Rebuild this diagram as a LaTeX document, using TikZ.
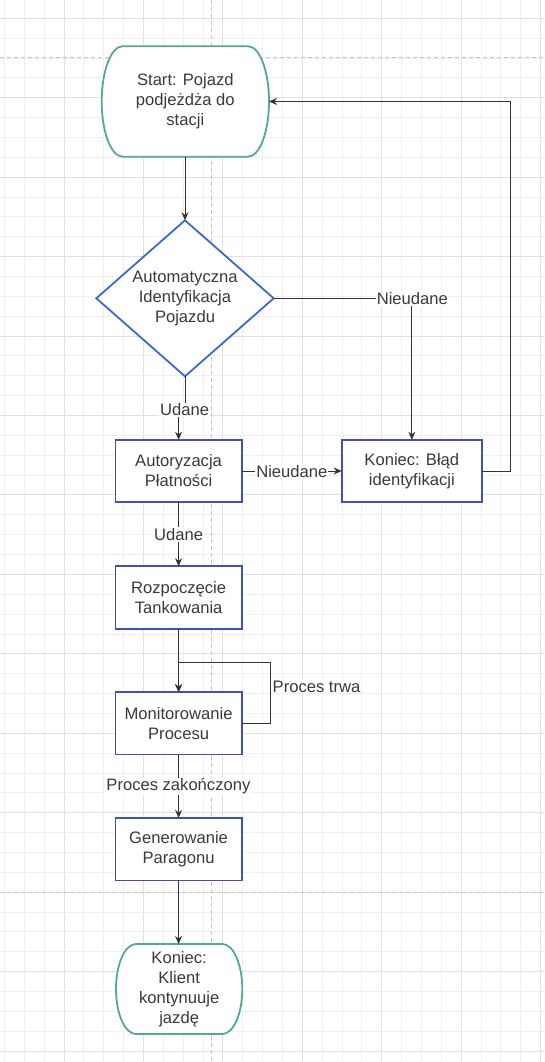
\documentclass[tikz,border=0pt]{standalone}
\usepackage{fontspec}
\setmainfont{Liberation Sans}
\usetikzlibrary{arrows.meta,shapes.geometric}
\definecolor{txtc}{HTML}{3A3A3A}
\definecolor{linec}{HTML}{333333}
\definecolor{boxc}{HTML}{4150B5}
\definecolor{diac}{HTML}{3B6AC9}
\definecolor{termc}{HTML}{52A89A}
\definecolor{gridminor}{HTML}{EFEFEF}
\definecolor{gridmajor}{HTML}{E0E0E0}
\definecolor{pagec}{HTML}{C4C4C4}
\begin{document}
\begin{tikzpicture}[x=1pt,y=-1pt,
  every node/.style={font=\fontsize{16.6}{19.9}\selectfont, text=txtc},
  box/.style={draw=boxc, line width=1.8pt, fill=white, minimum width=126.3pt, minimum height=62.5pt, inner sep=0pt, outer sep=0pt, align=center},
  termn/.style={rectangle, inner sep=0pt, outer sep=0pt, align=center},
  termline/.style={draw=termc, line width=1.8pt, fill=white},
  decision/.style={diamond, draw=diac, line width=1.8pt, fill=white, minimum width=177.3pt, minimum height=156pt, inner sep=0pt, outer sep=0pt},
  arr/.style={draw=linec, line width=1pt, -{Stealth[length=8pt,width=7pt]}},
  plain/.style={draw=linec, line width=1pt},
  lbl/.style={fill=white, inner sep=1pt, outer sep=0pt}
]
% background and bounding box
\fill[white] (0,0) rectangle (544,1062);
\useasboundingbox (0,0) rectangle (544,1062);
% grid
\foreach \i in {0,...,27}{
  \pgfmathsetmacro\gx{4.42+\i*19.86}
  \pgfmathtruncatemacro\gm{mod(\i+1,4)}
  \ifnum\gm=0
    \draw[gridmajor, line width=0.9pt] (\gx,0) -- (\gx,1062);
  \else
    \draw[gridminor, line width=0.9pt] (\gx,0) -- (\gx,1062);
  \fi
}
\foreach \i in {0,...,52}{
  \pgfmathsetmacro\gy{18.3+\i*19.86}
  \pgfmathtruncatemacro\gm{mod(\i,4)}
  \ifnum\gm=0
    \draw[gridmajor, line width=0.9pt] (0,\gy) -- (544,\gy);
  \else
    \draw[gridminor, line width=0.9pt] (0,\gy) -- (544,\gy);
  \fi
}
% page break lines
\draw[pagec, line width=0.9pt, dash pattern=on 4pt off 3pt] (0,57.3) -- (544,57.3);
\draw[pagec, line width=0.9pt, dash pattern=on 4pt off 3pt] (0,892.3) -- (544,892.3);
\draw[pagec, line width=0.9pt, dash pattern=on 4pt off 3pt] (211.7,0) -- (211.7,1062);

% terminal outlines
\draw[termline] (122.7,46.2) -- (248,46.2)
  .. controls (259.6,46.2) and (269,70.95) .. (269,101.45)
  .. controls (269,131.95) and (259.6,156.7) .. (248,156.7)
  -- (122.7,156.7)
  .. controls (111.1,156.7) and (101.7,131.95) .. (101.7,101.45)
  .. controls (101.7,70.95) and (111.1,46.2) .. (122.7,46.2) -- cycle;
\draw[termline] (136,944) -- (222.3,944)
  .. controls (233.35,944) and (242.3,964.15) .. (242.3,989)
  .. controls (242.3,1013.85) and (233.35,1034) .. (222.3,1034)
  -- (136,1034)
  .. controls (124.95,1034) and (116,1013.85) .. (116,989)
  .. controls (116,964.15) and (124.95,944) .. (136,944) -- cycle;

% nodes
\node[termn, minimum width=167.3pt, minimum height=110.5pt] (start) at (185.35,101.45) {Start: Pojazd\\podjeżdża do\\stacji};
\node[decision, label={[name=diat, align=center]center:{Automatyczna\\Identyfikacja\\Pojazdu}}] (dia) at (185,298.3) {};
\node[box] (auth) at (178.6,471) {Autoryzacja\\Płatności};
\node[box, minimum width=140.3pt] (err) at (411.85,471) {Koniec: Błąd\\identyfikacji};
\node[box] (tank) at (178.6,597.5) {Rozpoczęcie\\Tankowania};
\node[box] (mon) at (178.6,723.3) {Monitorowanie\\Procesu};
\node[box] (gen) at (178.6,849.2) {Generowanie\\Paragonu};
\node[termn, minimum width=126.3pt, minimum height=90pt] (end) at (179.15,989) {Koniec:\\Klient\\kontynuuje\\jazdę};

% helper coordinates
\coordinate (j1) at (185,410);
\coordinate (j2) at (178.6,410);
\coordinate (b1) at (510.7,471);
\coordinate (b2) at (510.7,101.45);
\coordinate (l1) at (270,723.3);
\coordinate (l2) at (270,662.7);
\coordinate (l3) at (178.6,662.7);

% connectors
\draw[arr] (start.south -| dia.north) -- (dia.north);
\draw[arr] (dia.south) -- (j1) -- (j2) -- (auth.north);
\draw[arr] (dia.east) -| (err.north);
\draw[arr] (auth.east) -- (err.west);
\draw[arr] (err.east) -- (b1) -- (b2) -- (start.east);
\draw[arr] (auth.south) -- (tank.north);
\draw[arr] (tank.south) -- (mon.north);
\draw[arr] (mon.east) -- (l1) -- (l2) -- (l3) -- (mon.north);
\draw[arr] (mon.south) -- (gen.north);
\draw[arr] (gen.south) -- (gen.south |- end.north);

% edge labels
\node[lbl] (lu1) at (184.6,410) {Udane};
\node[lbl] (ln1) at (412.3,298.8) {Nieudane};
\node[lbl] (ln2) at (291.8,471.5) {Nieudane};
\node[lbl] (lu2) at (178.6,534.5) {Udane};
\node[lbl, anchor=west] (lpt) at (271.7,686.7) {Proces trwa};
\node[lbl] (lpz) at (178.4,786.5) {Proces zakończony};
\end{tikzpicture}
\end{document}
